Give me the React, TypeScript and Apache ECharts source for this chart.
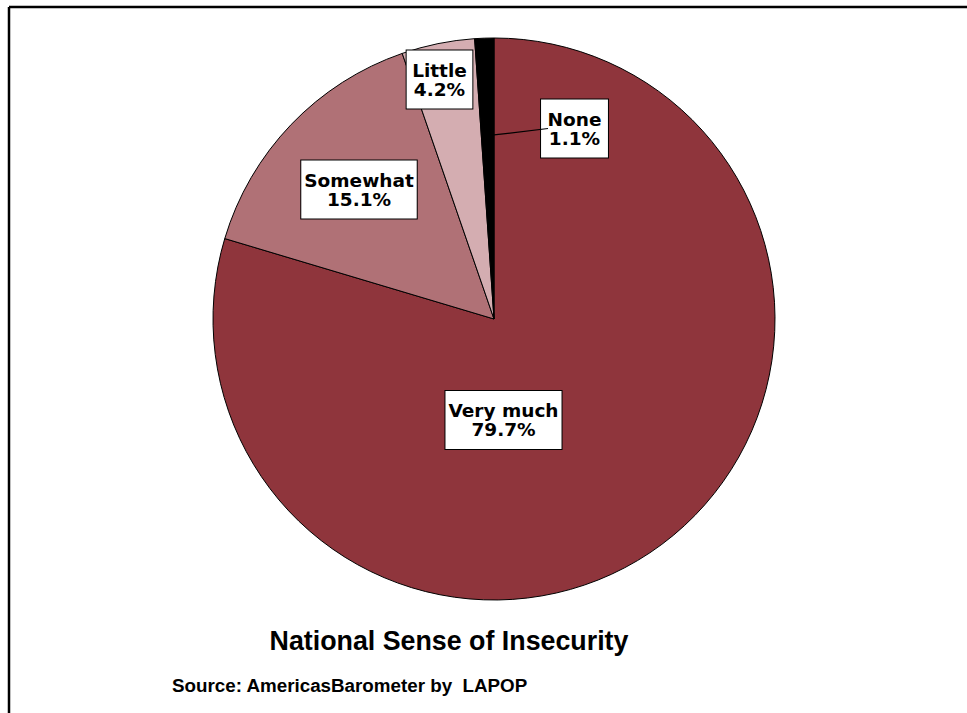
import React, { useEffect, useRef } from "react";
import * as echarts from "echarts";

const categories = ["Very much", "Somewhat", "Little", "None"];
const values = [79.7, 15.1, 4.2, 1.1];
const colors = ["#8F353C", "#B07176", "#D4ADB1", "#000000"];
const titleText = "National Sense of Insecurity";
const sourceText = "Source: AmericasBarometer by  LAPOP";

// label box centres (layout only)
const labelCenters = [
  [503.5, 420],
  [359, 189.5],
  [439.5, 79.5],
  [574.5, 128.5],
];
const labelPadding = [
  [10, 3],
  [10, 3],
  [10, 5.5],
  [10, 6.5],
];
const PIE_CX = 494;
const PIE_CY = 319;
const PIE_R = 281;

export default function App() {
  const ref = useRef<HTMLDivElement>(null);
  useEffect(() => {
    if (!ref.current) return;
    const chart = echarts.init(ref.current, null, { renderer: "svg" });
    const data = categories.map((name, i) => ({
      name,
      value: values[i],
      itemStyle: { color: colors[i] },
      label: { padding: labelPadding[i] },
    }));
    // leader line for the "None" label: from the slice edge to the box
    const noneC = labelCenters[3];
    const leaderStart = [PIE_CX, PIE_CY - 0.655 * PIE_R];
    const leaderEnd = [noneC[0] - 26.5, noneC[1]];
    chart.setOption({
      animation: false,
      backgroundColor: "#ffffff",
      graphic: [
        {
          type: "line",
          shape: { x1: 9, y1: 7, x2: 967, y2: 7 },
          style: { stroke: "#000", lineWidth: 2.5 },
        },
        {
          type: "line",
          shape: { x1: 9, y1: 7, x2: 9, y2: 713 },
          style: { stroke: "#000", lineWidth: 2.5 },
        },
        {
          type: "line",
          z: 100,
          shape: {
            x1: leaderStart[0],
            y1: leaderStart[1],
            x2: leaderEnd[0],
            y2: leaderEnd[1],
          },
          style: { stroke: "#000", lineWidth: 1.2 },
        },
        {
          type: "text",
          x: 449,
          y: 641,
          style: {
            text: titleText,
            textAlign: "center",
            textVerticalAlign: "middle",
            fontFamily: "Liberation Sans, Arial, sans-serif",
            fontWeight: "bold",
            fontSize: 26.8,
            fill: "#000",
          },
        },
        {
          type: "text",
          x: 172,
          y: 685,
          style: {
            text: sourceText,
            textAlign: "left",
            textVerticalAlign: "middle",
            fontFamily: "Liberation Sans, Arial, sans-serif",
            fontWeight: "bold",
            fontSize: 18.8,
            fill: "#000",
          },
        },
      ],
      series: [
        {
          type: "pie",
          center: [PIE_CX, PIE_CY],
          radius: PIE_R,
          startAngle: 90,
          clockwise: true,
          avoidLabelOverlap: false,
          itemStyle: { borderColor: "#000", borderWidth: 1 },
          emphasis: { disabled: true },
          label: {
            show: true,
            position: "inside",
            formatter: (p: any) => `${p.name}\n${p.value.toFixed(1)}%`,
            color: "#000",
            fontFamily: "DejaVu Sans, sans-serif",
            fontWeight: "bold",
            fontSize: 18.5,
            lineHeight: 19,
            align: "center",
            backgroundColor: "#fff",
            borderColor: "#000",
            borderWidth: 1,
          },
          labelLine: { show: false },
          labelLayout: (params: any) => {
            const c = labelCenters[params.dataIndex];
            return {
              x: c[0],
              y: c[1],
              align: "center",
              verticalAlign: "middle",
            };
          },
          data,
        },
      ],
    });
    return () => chart.dispose();
  }, []);
  return (
    <div
      ref={ref}
      style={{ position: "fixed", left: 0, top: 0, width: 967, height: 713 }}
    />
  );
}
